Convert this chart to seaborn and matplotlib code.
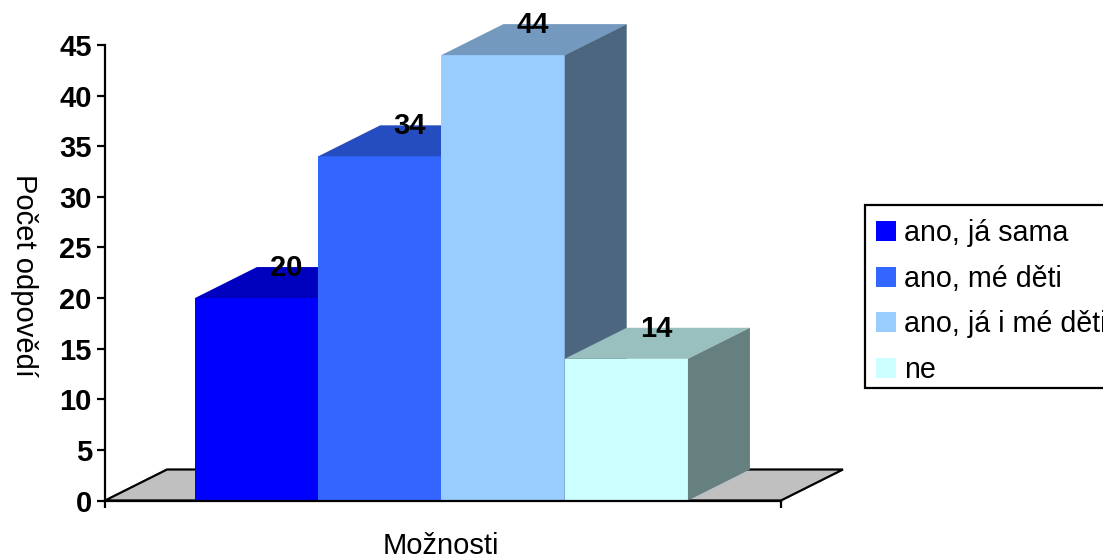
import matplotlib
matplotlib.use("Agg")
import matplotlib.pyplot as plt
import numpy as np
import pandas as pd
import seaborn as sns
from matplotlib.colors import to_rgb
from matplotlib.patches import Polygon, Rectangle

categories = ["ano, já sama", "ano, mé děti", "ano, já i mé děti", "ne"]
answers = [20, 34, 44, 14]
bar_colors = ["#0000FF", "#3366FF", "#99CCFF", "#CCFFFF"]
y_ticks = [0, 5, 10, 15, 20, 25, 30, 35, 40, 45]
x_title = "Možnosti"
y_title = "Počet odpovědí"

sns.set_theme(style="white")
plt.rcParams["font.family"] = ["Liberation Sans", "DejaVu Sans"]

W, H = 1103, 559
FONT = 21
LEGEND_FONT = 20.6
fig = plt.figure(figsize=(W / 100, H / 100), dpi=100, facecolor="white")
ax = fig.add_axes([105 / W, 1 - 500.5 / H, 676 / W, 455.5 / H])
ax.patch.set_alpha(0)

table = pd.DataFrame({"option": categories, "count": answers})
sns.barplot(data=table, x="option", y="count", hue="option", order=categories,
            hue_order=categories, palette=bar_colors, width=1.0, dodge=False,
            saturation=1, linewidth=0, legend=False, ax=ax)

ax.set_xlim(-1.23, 4.255)
ax.set_ylim(0, 45)

# Oblique depth of the 3D columns, in data units
depth_x = 62 / 123.25
depth_y = 31 / 10.12


def shade(color, factor):
    return tuple(c * factor for c in to_rgb(color))


x0, x1 = ax.get_xlim()
floor = Polygon([(x0, 0), (x0 + depth_x, depth_y), (x1 + depth_x, depth_y), (x1, 0)],
                closed=True, facecolor="#C0C0C0", edgecolor="black", linewidth=1.6,
                joinstyle="miter", clip_on=False, zorder=1)
ax.add_patch(floor)

# Columns go left to right so that each one covers the depth of its neighbour
for i, (container, value, color) in enumerate(zip(ax.containers, answers, bar_colors)):
    bar = container[0]
    bar.set_zorder(5 + i)
    bar.set_clip_on(False)
    left, right = bar.get_x(), bar.get_x() + bar.get_width()
    top_face = Polygon([(left, value), (left + depth_x, value + depth_y),
                        (right + depth_x, value + depth_y), (right, value)],
                       closed=True, facecolor=shade(color, 0.75), edgecolor="none",
                       clip_on=False, zorder=5 + i)
    side_face = Polygon([(right, 0), (right + depth_x, depth_y),
                         (right + depth_x, value + depth_y), (right, value)],
                        closed=True, facecolor=shade(color, 0.5), edgecolor="none",
                        clip_on=False, zorder=5 + i)
    ax.add_patch(top_face)
    ax.add_patch(side_face)

for i, value in enumerate(answers):
    ax.text(i + depth_x * 0.48, value + depth_y - 0.1, str(value), ha="center", va="center",
            fontsize=FONT, fontweight="bold", color="black", zorder=20, clip_on=False)

sns.despine(ax=ax)
for side in ("left", "bottom"):
    ax.spines[side].set_linewidth(1.6)
    ax.spines[side].set_color("black")
    ax.spines[side].set_zorder(15)

ax.set_yticks(y_ticks)
ax.set_xticks([x0, x1])
ax.set_xticklabels([])
ax.tick_params(axis="y", left=True, length=6, width=1.6, color="black", pad=3.5, labelsize=FONT)
ax.tick_params(axis="x", bottom=True, length=5, width=1.6, color="black")
for label in ax.get_yticklabels():
    label.set_fontweight("bold")
    label.set_color("black")

ax.set_xlabel(x_title, fontsize=FONT, color="black")
ax.xaxis.set_label_coords(0.497, -0.1)
ax.xaxis.label.set_verticalalignment("center")
ax.set_ylabel(y_title, fontsize=FONT, rotation=270, color="black")
ax.yaxis.set_label_coords(-0.12, 0.495)
ax.yaxis.label.set_verticalalignment("center")
ax.yaxis.label.set_horizontalalignment("center")

# Legend frame runs off the right edge of the figure
ax.add_artist(Rectangle((865 / W, 1 - 388 / H), 260 / W, 183 / H, transform=fig.transFigure,
                        facecolor="white", edgecolor="black", linewidth=1.6,
                        clip_on=False, zorder=25))
legend = ax.legend(handles=[c[0] for c in ax.containers], labels=categories,
                   loc="upper left", bbox_to_anchor=(876 / W, 1 - 219 / H),
                   bbox_transform=fig.transFigure, borderaxespad=0, fontsize=LEGEND_FONT,
                   frameon=False, handlelength=0.7, handleheight=0.7, handletextpad=0.27,
                   labelspacing=0.62, borderpad=0)
legend.set_zorder(30)
for text in legend.get_texts():
    text.set_color("black")

fig.savefig("out.png", dpi=100, facecolor="white")
